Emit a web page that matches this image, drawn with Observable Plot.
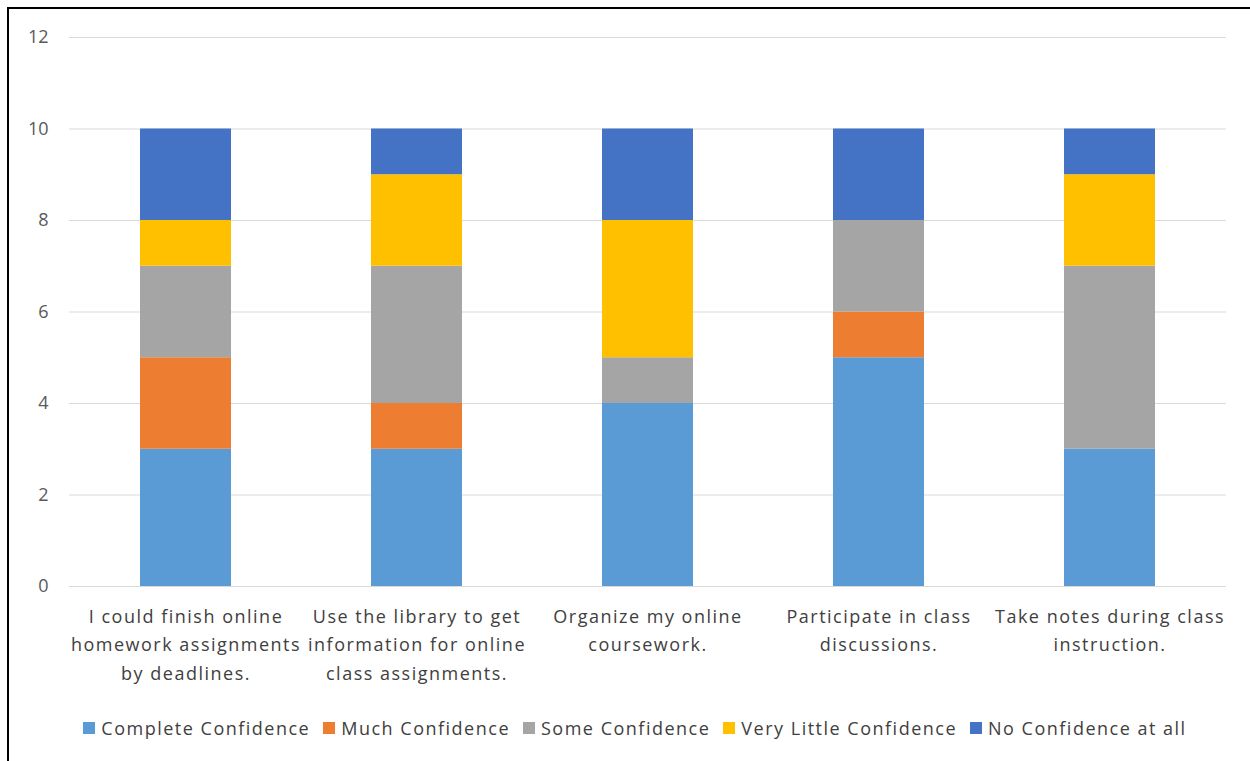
<!DOCTYPE html>
<html>
<head>
<meta charset="utf-8">
<script src="https://cdn.jsdelivr.net/npm/d3@7"></script>
<script src="https://cdn.jsdelivr.net/npm/@observablehq/plot@0.6"></script>
<style>
  html, body { margin: 0; padding: 0; background: #fff; overflow: hidden; }
  body { width: 1250px; height: 761px; position: relative; font-family: "Open Sans", sans-serif; }
  #frame { position: absolute; left: 7px; top: 7px; width: 1260px; height: 770px; border: 2px solid #000; box-sizing: border-box; }
  #chart { position: absolute; left: 0; top: 0; }
  #legend { position: absolute; left: 10px; width: 1250px; top: 716px; display: flex; justify-content: center; align-items: center; font-size: 18px; letter-spacing: 1.5px; color: #404040; }
  .item { display: flex; align-items: center; margin: 0 6.5px; }
  .sw { width: 12px; height: 12px; margin-right: 6px; }
</style>
</head>
<body>
<div id="frame"></div>
<div id="chart"></div>
<div id="legend"></div>
<script>
const categories = [
  "I could finish online homework assignments by deadlines.",
  "Use the library to get information for online class assignments.",
  "Organize my online coursework.",
  "Participate in class discussions.",
  "Take notes during class instruction."
];
const categoryLabels = [
  "I could finish online\nhomework assignments\nby deadlines.",
  "Use the library to get\ninformation for online\nclass assignments.",
  "Organize my online\ncoursework.",
  "Participate in class\ndiscussions.",
  "Take notes during class\ninstruction."
];
const seriesNames = ["Complete Confidence", "Much Confidence", "Some Confidence", "Very Little Confidence", "No Confidence at all"];
const seriesColors = ["#5B9BD5", "#ED7D31", "#A5A5A5", "#FFC000", "#4472C4"];
const completeConfidence = [3, 3, 4, 5, 3];
const muchConfidence = [2, 1, 0, 1, 0];
const someConfidence = [2, 3, 1, 2, 4];
const veryLittleConfidence = [1, 2, 3, 0, 2];
const noConfidence = [2, 1, 2, 2, 1];
const yTicks = [0, 2, 4, 6, 8, 10, 12];

const seriesValues = [completeConfidence, muchConfidence, someConfidence, veryLittleConfidence, noConfidence];
const rows = [];
seriesNames.forEach((s, si) => {
  categories.forEach((c, ci) => {
    rows.push({category: c, series: s, value: seriesValues[si][ci]});
  });
});
const labelOf = new Map(categories.map((c, i) => [c, categoryLabels[i]]));

const chart = Plot.plot({
  width: 1250,
  height: 700,
  marginTop: 37,
  marginBottom: 114,
  marginLeft: 69,
  marginRight: 24,
  style: {fontFamily: "Open Sans, sans-serif", fontSize: "17px", color: "#595959", background: "transparent"},
  x: {domain: categories, paddingInner: 0.607, paddingOuter: 0.3035, axis: null},
  y: {domain: [0, 12], ticks: yTicks, axis: null},
  color: {domain: seriesNames, range: seriesColors},
  marks: [
    Plot.gridY(yTicks, {stroke: "#d9d9d9", strokeOpacity: 1, strokeWidth: 1}),
    Plot.axisY(yTicks, {tickSize: 0, tickPadding: 21, fill: "#595959", fontSize: 18, label: null}),
    Plot.barY(rows, {x: "category", y: "value", fill: "series", order: seriesNames}),
    Plot.text(categories, {x: d => d, text: d => labelOf.get(d), frameAnchor: "bottom", lineAnchor: "top", dy: 16, lineHeight: 1.58, fontSize: 18, fill: "#404040", className: "xlabels"})
  ]
});
d3.select(chart).selectAll(".xlabels text").style("letter-spacing", "1.5px");
document.getElementById("chart").appendChild(chart);

const legend = document.getElementById("legend");
seriesNames.forEach((s, i) => {
  const item = document.createElement("div");
  item.className = "item";
  const sw = document.createElement("div");
  sw.className = "sw";
  sw.style.background = seriesColors[i];
  const t = document.createElement("span");
  t.textContent = s;
  item.appendChild(sw);
  item.appendChild(t);
  legend.appendChild(item);
});
</script>
</body>
</html>
